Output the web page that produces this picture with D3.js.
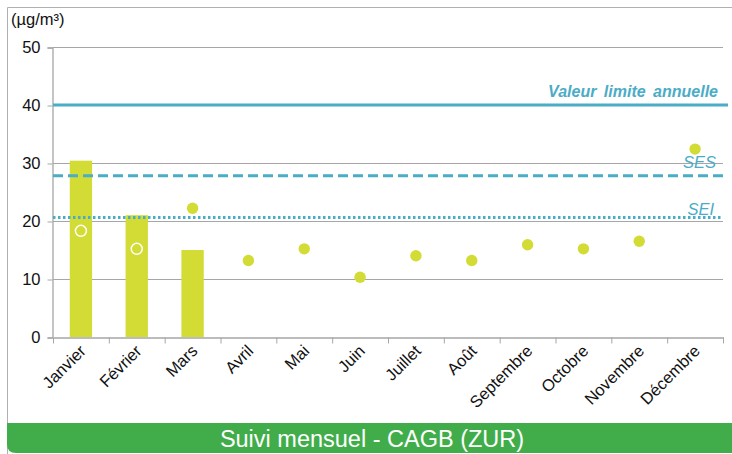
<!DOCTYPE html>
<html><head><meta charset="utf-8">
<script src="https://cdn.jsdelivr.net/npm/d3@7"></script>
<style>body{margin:0;background:#fff}svg{display:block}</style>
</head><body>
<svg id="c" width="732" height="454"></svg>
<script>
const months = ["Janvier","Février","Mars","Avril","Mai","Juin","Juillet","Août","Septembre","Octobre","Novembre","Décembre"];
const barValues = [30.4, 21.0, 15.0, null, null, null, null, null, null, null, null, null];
const pointValues = [null, null, 22.2, 13.2, 15.2, 10.3, 14.0, 13.2, 15.9, 15.2, 16.5, 32.4];
const openPointValues = [18.3, 15.2, null, null, null, null, null, null, null, null, null, null];
const yTicks = [0, 10, 20, 30, 40, 50];
const limitValue = 40, sesValue = 27.8, seiValue = 20.6;
const limitLabel = "Valeur limite annuelle", sesLabel = "SES", seiLabel = "SEI";
const unitLabel = "(µg/m³)";
const footerText = "Suivi mensuel - CAGB (ZUR)";

const svg = d3.select("#c");
const green = "#d2dc35", blue = "#4bacc6", font = "'Liberation Sans', Arial, sans-serif";

// frame
svg.append("path").attr("d","M7.5,454 L7.5,7.5 L732,7.5").attr("fill","none").attr("stroke","#b0b0b0");
svg.append("path").attr("d","M7,423 L732,423 L732,453 L16,453 Q7,453 7,444 Z").attr("fill","#40ad4a");
svg.append("text").attr("x",372).attr("y",447).attr("text-anchor","middle").attr("fill","#fff")
  .attr("font-family",font).attr("font-size",23.5).text(footerText);

const x = d3.scaleBand().domain(months).range([53,723]).paddingInner(0.6).paddingOuter(0.3);
const xb = d3.scaleBand().domain(months).range([53,723]);
const y = d3.scaleLinear().domain([0,50]).range([337,47]);

// gridlines
svg.append("g").selectAll("line").data(yTicks.filter(d=>d>0)).join("line")
  .attr("x1",53).attr("x2",723).attr("y1",d=>y(d)+0.5).attr("y2",d=>y(d)+0.5)
  .attr("stroke","#a6a6a6").attr("stroke-width",1.2);

// y axis
const ya = svg.append("g").attr("transform","translate(52.5,0.5)")
  .call(d3.axisLeft(y).tickValues(yTicks).tickSize(5).tickPadding(7));
ya.select(".domain").attr("stroke","#a6a6a6").attr("stroke-width",1.3);
ya.selectAll(".tick line").attr("stroke","#a6a6a6");
ya.selectAll("text").attr("font-family",font).attr("font-size",16.5).attr("fill","#111");

// x axis
const xa = svg.append("g").attr("transform","translate(0.5,337.5)")
  .call(d3.axisBottom(xb).tickValues([]).tickSizeOuter(0));
xa.select(".domain").attr("stroke","#a6a6a6").attr("stroke-width",1.3);
const tickPos = months.map(m=>xb(m)).concat([xb.range()[1]]);
xa.selectAll(".tk").data(tickPos).join("line").attr("class","tk")
  .attr("x1",d=>d).attr("x2",d=>d).attr("y1",0).attr("y2",6).attr("stroke","#a6a6a6");
svg.append("g").selectAll("text").data(months).join("text")
  .attr("transform",d=>`translate(${xb(d)+xb.bandwidth()/2+6},${352}) rotate(-45)`)
  .attr("text-anchor","end").attr("font-family",font).attr("font-size",16.5).attr("fill","#111").text(d=>d);

// bars
svg.append("g").selectAll("rect").data(months.map((m,i)=>({m,v:barValues[i]})).filter(d=>d.v!=null)).join("rect")
  .attr("x",d=>x(d.m)).attr("width",x.bandwidth()).attr("y",d=>y(d.v)).attr("height",d=>y(0)-y(d.v)).attr("fill",green);

// limit lines
svg.append("line").attr("x1",53).attr("x2",728).attr("y1",y(limitValue)).attr("y2",y(limitValue))
  .attr("stroke",blue).attr("stroke-width",3);
svg.append("line").attr("x1",53).attr("x2",728).attr("y1",y(sesValue)).attr("y2",y(sesValue))
  .attr("stroke",blue).attr("stroke-width",3).attr("stroke-dasharray","10,5");
svg.append("line").attr("x1",53).attr("x2",723).attr("y1",y(seiValue)).attr("y2",y(seiValue))
  .attr("stroke",blue).attr("stroke-width",3).attr("stroke-dasharray","2.5,2.5");

// points
const cx = m => xb(m)+xb.bandwidth()/2;
svg.append("g").selectAll("circle").data(months.map((m,i)=>({m,v:pointValues[i]})).filter(d=>d.v!=null)).join("circle")
  .attr("cx",d=>cx(d.m)).attr("cy",d=>y(d.v)).attr("r",5.7).attr("fill",green);
svg.append("g").selectAll("circle").data(months.map((m,i)=>({m,v:openPointValues[i]})).filter(d=>d.v!=null)).join("circle")
  .attr("cx",d=>cx(d.m)).attr("cy",d=>y(d.v)).attr("r",5.5).attr("fill","none").attr("stroke","#fff").attr("stroke-width",1.5);

// labels
svg.append("text").attr("x",718).attr("y",97).attr("text-anchor","end").attr("font-family",font)
  .attr("font-size",16).attr("font-weight","bold").attr("font-style","italic").attr("fill",blue)
  .attr("word-spacing",3).text(limitLabel);
svg.append("text").attr("x",716).attr("y",168).attr("text-anchor","end").attr("font-family",font)
  .attr("font-size",16.5).attr("font-style","italic").attr("fill",blue).text(sesLabel);
svg.append("text").attr("x",714).attr("y",215).attr("text-anchor","end").attr("font-family",font)
  .attr("font-size",16.5).attr("font-style","italic").attr("fill",blue).text(seiLabel);
svg.append("text").attr("x",11).attr("y",25).attr("font-family",font)
  .attr("font-size",16.5).attr("fill","#111").text(unitLabel);
</script>
</body></html>
